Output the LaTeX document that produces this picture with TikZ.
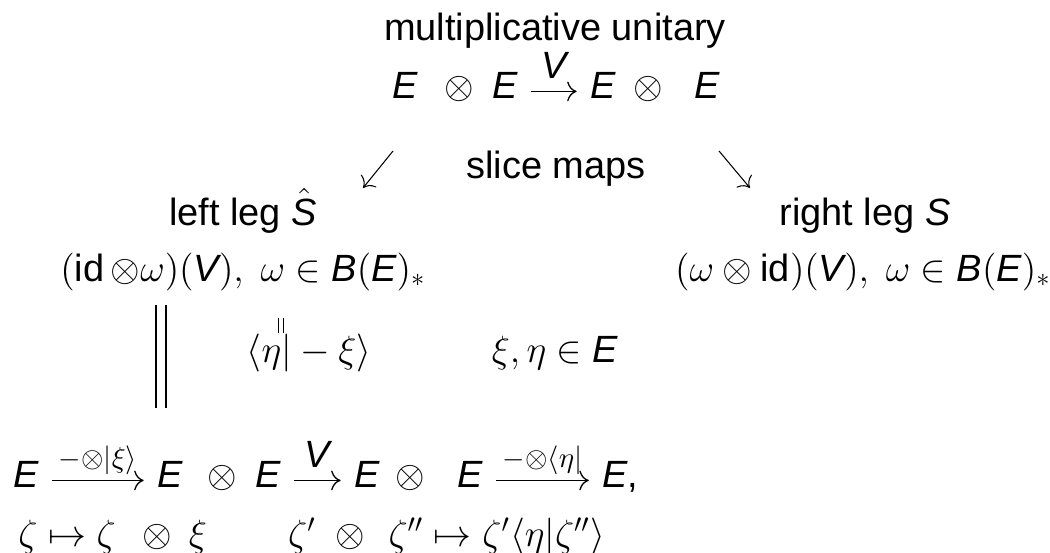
\documentclass[tikz,border=0pt]{standalone}
\usepackage{amsmath,amssymb}
\usepackage{fontspec}
\setmainfont{Liberation Sans}
\usepackage{tikz}
\usetikzlibrary{arrows.meta}
\newcommand{\mv}[1]{\textit{#1}}

\begin{document}
\begin{tikzpicture}[x=0.013333cm, y=-0.013333cm,
      font=\fontsize{14.4}{17}\selectfont,
      >={Computer Modern Rightarrow[length=3.6pt, width=7.5pt]},
      txt/.style={anchor=base, inner sep=0pt},
      ent/.style={anchor=base, inner sep=0pt, text height=0.7em, text depth=0.2em},
      lab/.style={anchor=base, inner sep=0pt, yshift=4.8pt},
      small/.style={font=\fontsize{11}{13}\selectfont},
      arr/.style={->, line width=0.5pt, shorten <=5pt, shorten >=5pt},
      slice/.style={->, line width=0.4pt},
      eqline/.style={double, line width=0.5pt, double distance=3.3pt},
      smalleq/.style={double, line width=0.5pt, double distance=1.2pt}
    ]
    \path[use as bounding box] (0,0) rectangle (1050,552);

    \node[txt] (title) at (555,40) {multiplicative unitary};
    \node[ent] (tE1) at (405,98) {$\mv{E}$};
    \node[txt] (tox1) at (459,98) {$\otimes$};
    \node[ent] (tE2) at (505,98) {$\mv{E}$};
    \node[ent] (tE3) at (603,98) {$\mv{E}$};
    \node[txt] (tox2) at (648,98) {$\otimes$};
    \node[ent] (tE4) at (707,98) {$\mv{E}$};
    \draw[arr] (tE2) -- node[lab] {$\mv{V}$} (tE3);

    \coordinate (sl1) at (393,151);
    \coordinate (sl2) at (363,188);
    \coordinate (sr1) at (719,151);
    \coordinate (sr2) at (750,188);
    \draw[slice] (sl1) -- (sl2);
    \draw[slice] (sr1) -- (sr2);
    \node[txt] (slice) at (556,178) {slice maps};

    \node[txt] (lleg) at (243,225) {left leg $\hat{\mv{S}}$};
    \node[txt] (rleg) at (865,225) {right leg $\mv{S}$};
    \node[txt] (lform) at (243,281)
      {$(\text{id}\,{\otimes}\omega)(\mv{V}),\ \omega\in\mv{B}(\mv{E})_*$};
    \node[txt] (rform) at (863,281)
      {$(\omega\otimes\text{id})(\mv{V}),\ \omega\in\mv{B}(\mv{E})_*$};

    \coordinate (eqT) at (161,305);
    \coordinate (eqB) at (161,408);
    \draw[eqline] (eqT) -- (eqB);
    \coordinate (seqT) at (281,318);
    \coordinate (seqB) at (281,333);
    \draw[smalleq] (seqT) -- (seqB);
    \node[txt] (braket) at (309,362) {$\langle\eta| - \xi\rangle$};
    \node[txt] (vecs) at (555,362) {$\xi,\eta\in\mv{E}$};

    \node[ent] (bE1) at (26,487) {$\mv{E}$};
    \node[ent] (bE2) at (170,487) {$\mv{E}$};
    \node[txt] (box1) at (222,487) {$\otimes$};
    \node[ent] (bE3) at (268,487) {$\mv{E}$};
    \node[ent] (bE4) at (367,487) {$\mv{E}$};
    \node[txt] (box2) at (410,487) {$\otimes$};
    \node[ent] (bE5) at (470,487) {$\mv{E}$};
    \node[ent, anchor=base west] (bE6) at (602,487) {$\mv{E}$,};
    \draw[arr] (bE1) -- node[lab, small] {$-{\otimes}|\xi\rangle$} (bE2);
    \draw[arr] (bE3) -- node[lab] {$\mv{V}$} (bE4);
    \draw[arr] (bE5) -- node[lab, small] {$-{\otimes}\langle\eta|$} (bE6);

    \node[txt] (zmap) at (67,546) {$\zeta\mapsto\zeta$};
    \node[txt] (zox1) at (157,546) {$\otimes$};
    \node[txt] (zxi) at (198,546) {$\xi$};
    \node[txt] (zp) at (302,546) {$\zeta'$};
    \node[txt] (zox2) at (350,546) {$\otimes$};
    \node[txt, anchor=base west] (zpp) at (388,546)
      {$\zeta''\mapsto\zeta'\langle\eta|\zeta''\rangle$};
  \end{tikzpicture}
\end{document}
